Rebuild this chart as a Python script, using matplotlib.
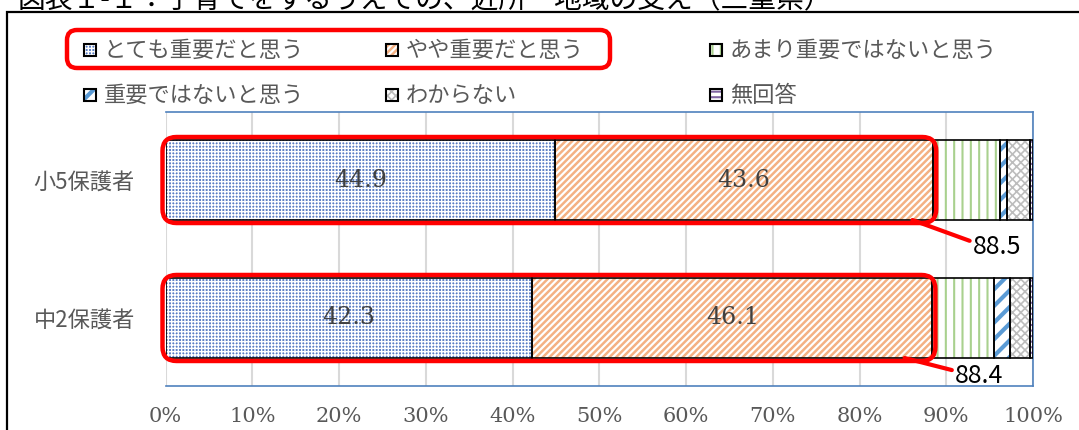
import matplotlib
matplotlib.use("Agg")
import numpy as np
import matplotlib.pyplot as plt
from matplotlib.patches import Rectangle, FancyBboxPatch
from matplotlib.transforms import IdentityTransform

# data
groups = ["小5保護者", "中2保護者"]
series = ["とても重要だと思う", "やや重要だと思う", "あまり重要ではないと思う",
          "重要ではないと思う", "わからない", "無回答"]
shou5 = [44.9, 43.6, 7.7, 0.8, 2.7, 0.3]
chu2 = [42.3, 46.1, 7.1, 1.8, 2.4, 0.3]
totals = ["88.5", "88.4"]
xticks = np.arange(0, 101, 10)

# styles of each series: (hatch colour, face colour, hatch, hatch width)
styles = [("#FFFFFF", "#5A7EC4", "+++++", 1.0),
          ("#F4B183", "#FFFFFF", "/////", 1.8),
          ("#A9D18E", "#FFFFFF", "||", 1.5),
          ("#5B9BD5", "#FFFFFF", "//", 3.0),
          ("#BDBDBD", "#FFFFFF", "xxxx", 1.2),
          ("#8064A2", "#FFFFFF", "---", 1.5)]

jp = ['Noto Sans CJK JP', 'DejaVu Sans']
gray = "#595959"

W, H = 1079, 430
fig = plt.figure(figsize=(W / 100, H / 100), dpi=100)
fig.patch.set_facecolor("white")


def fx(x):
    return x / W


def fy(y):
    return 1 - y / H


# outer frame and clipped title
fig.patches.append(Rectangle((fx(7), fy(440)), 1.2, fy(12) - fy(440), fill=False,
                             edgecolor="black", linewidth=1.6, transform=fig.transFigure))
fig.text(fx(18), fy(8), "図表１-１：子育てをするうえでの、近所・地域の支え（三重県）",
         family=jp, fontsize=20, color="black", va="baseline", ha="left")

ax = fig.add_axes([fx(165.5), fy(386), (1033 - 165.5) / W, (386 - 112) / H])
ax.set_xlim(0, 100)
ax.set_ylim(-0.493, 1.493)

ypos = [1, 0]
data = np.array([shou5, chu2])
bh = 0.58
left = np.zeros(2)
for i, (hc, fc, hatch, hw) in enumerate(styles):
    vals = data[:, i]
    with plt.rc_context({'hatch.linewidth': hw}):
        ax.barh(ypos, vals, left=left, height=bh, color=fc, edgecolor=hc,
                hatch=hatch, linewidth=0, zorder=2)
    ax.barh(ypos, vals, left=left, height=bh, fill=False, edgecolor="black",
            linewidth=1.2, zorder=3)
    if i < 2:
        for y, v, l in zip(ypos, vals, left):
            ax.text(l + v / 2, y, f"{v:.1f}", ha="center", va="center",
                    family="DejaVu Serif", fontsize=17, color="#404040", zorder=5)
    left = left + vals

# axes styling
ax.set_xticks(xticks)
ax.set_xticklabels([f"{t}%" for t in xticks], family="DejaVu Serif",
                   fontsize=15, color=gray)
ax.set_yticks(ypos)
ax.set_yticklabels(groups, family=jp, fontsize=16, color=gray)
ax.tick_params(length=0)
ax.tick_params(axis="x", pad=15)
ax.tick_params(axis="y", pad=22)
ax.grid(axis="x", color="#D9D9D9", linewidth=1.5, zorder=0)
ax.set_axisbelow(True)
for s in ["top", "right", "bottom"]:
    ax.spines[s].set_color("#4F81BD")
    ax.spines[s].set_linewidth(1.2)
ax.spines["left"].set_visible(False)

# red rounded boxes round the first two segments
for y, row in zip(ypos, data):
    (x0, y0) = ax.transData.transform((0, y - bh / 2))
    (x1, y1) = ax.transData.transform((row[0] + row[1], y + bh / 2))
    fig.patches.append(FancyBboxPatch((x0, y0), x1 - x0, y1 - y0,
                                      boxstyle="round,pad=3,rounding_size=14",
                                      fill=False, edgecolor="#FF0000", linewidth=3.2,
                                      transform=IdentityTransform(), zorder=10))

# call-out labels with the sum of the first two segments
offsets = [((-2.4, 60, -27)), ((-3.2, 50, -18))]
for y, row, txt, (dx, ox, oy) in zip(ypos, data, totals, offsets):
    ax.annotate(txt, xy=(row[0] + row[1] + dx, y - bh / 2), xytext=(ox, oy),
                textcoords="offset pixels", ha="left", va="center",
                family=jp, fontsize=18, color="black", zorder=11,
                annotation_clip=False,
                arrowprops=dict(arrowstyle="-", color="#FF0000", lw=3,
                                shrinkA=0, shrinkB=0, relpos=(0, 0.7)))

# legend drawn as boxes and texts
leg_x = [84, 386, 710]
leg_y = [50, 95]
for k, (name, (hc, fc, hatch, hw)) in enumerate(zip(series, styles)):
    row, col = divmod(k, 3)
    x, y = leg_x[col], leg_y[row]
    with plt.rc_context({'hatch.linewidth': hw}):
        fig.patches.append(Rectangle((fx(x), fy(y + 6)), fx(12), fy(0) - fy(12),
                                     facecolor=fc, edgecolor=hc, hatch=hatch,
                                     linewidth=0, transform=fig.transFigure))
    fig.patches.append(Rectangle((fx(x), fy(y + 6)), fx(12), fy(0) - fy(12),
                                 fill=False, edgecolor="black", linewidth=1.5,
                                 transform=fig.transFigure))
    fig.text(fx(x + 20), fy(y), name, family=jp, fontsize=16, color=gray,
             ha="left", va="center")

# red box round the first two legend entries
fig.patches.append(FancyBboxPatch((67, H - 68), 610 - 67, 38,
                                  boxstyle="round,pad=0,rounding_size=10",
                                  fill=False, edgecolor="#FF0000", linewidth=3.2,
                                  transform=IdentityTransform(), zorder=10))

fig.savefig("out.png", dpi=100)
